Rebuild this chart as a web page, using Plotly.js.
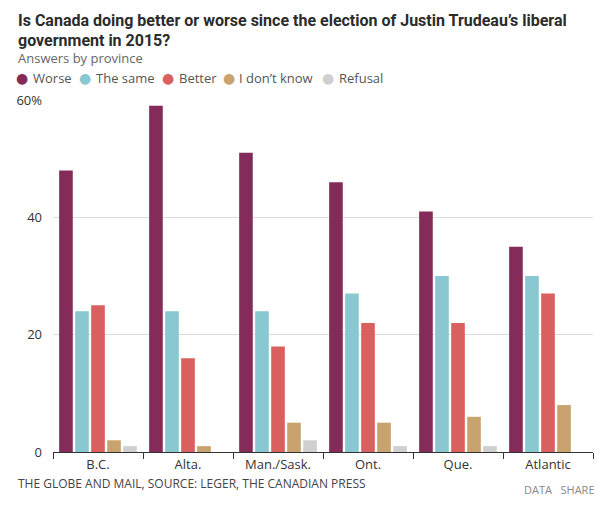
<!DOCTYPE html>
<html><head><meta charset="utf-8">
<script src="https://cdn.plot.ly/plotly-3.0.1.min.js"></script>
<style>html,body{margin:0;padding:0;background:#fff}#chart{width:615px;height:509px}</style>
</head><body><div id="chart"></div>
<script>
const provinces = ["B.C.", "Alta.", "Man./Sask.", "Ont.", "Que.", "Atlantic"];
const seriesNames = ["Worse", "The same", "Better", "I don\u2019t know", "Refusal"];
const worse   = [48, 59, 51, 46, 41, 35];
const same    = [24, 24, 24, 27, 30, 30];
const better  = [25, 16, 18, 22, 22, 27];
const dontKnow= [2, 1, 5, 5, 6, 8];
const refusal = [1, 0, 2, 1, 1, 0];
const yTickVals = [0, 20, 40, 60];
const yTickText = ["0", "20", "40", "60%"];
const colors = ["#842b59", "#89c7d1", "#d9605f", "#c9a36f", "#cfcfcf"];

const values = [worse, same, better, dontKnow, refusal];
const traces = values.map((v, i) => ({
  type: "bar", x: provinces, y: v, name: seriesNames[i],
  marker: {color: colors[i]}, showlegend: false, hoverinfo: "x+y+name"
}));

const L = 53, R = 593, T = 100, B = 452;
const W = R - L, H = B - T;
const px = x => (x - L) / W;
const py = y => (B - y) / H;

const font = "Segoe UI, 'Open Sans', 'Noto Sans', sans-serif";
const annotations = [];
const titleLines = ["Is Canada doing better or worse since the election of Justin Trudeau\u2019s liberal", "government in 2015?"];
titleLines.forEach((t, i) => {
  annotations.push({xref: "paper", yref: "paper", x: px(16), y: py(20 + 20 * i), xanchor: "left", yanchor: "middle",
    text: "<b>" + t + "</b>", showarrow: false,
    font: {family: "Roboto, 'Open Sans', sans-serif", size: 16, color: "#2b2b2b"}});
});
annotations.push({xref: "paper", yref: "paper", x: px(16), y: py(58), xanchor: "left", yanchor: "middle",
  text: "Answers by province", showarrow: false, font: {family: font, size: 13, color: "#666"}});
const legendDot = [22, 85, 168, 229, 328];
const legendText = [31, 94, 177, 237, 337];
seriesNames.forEach((n, i) => {
  annotations.push({xref: "paper", yref: "paper", x: px(legendDot[i]), y: py(78), xanchor: "center", yanchor: "middle",
    text: "\u25CF", showarrow: false, font: {family: "DejaVu Sans, sans-serif", size: 14, color: colors[i]}});
  annotations.push({xref: "paper", yref: "paper", x: px(legendText[i]), y: py(78), xanchor: "left", yanchor: "middle",
    text: n, showarrow: false, font: {family: font, size: 13, color: "#555"}});
});
annotations.push({xref: "paper", yref: "paper", x: px(16), y: py(483), xanchor: "left", yanchor: "middle",
  text: "THE GLOBE AND MAIL, SOURCE: LEGER, THE CANADIAN PRESS", showarrow: false,
  font: {family: font, size: 12, color: "#444"}});
annotations.push({xref: "paper", yref: "paper", x: px(597), y: py(489), xanchor: "right", yanchor: "middle",
  text: "DATA\u00A0\u00A0\u00A0SHARE", showarrow: false, font: {family: font, size: 11, color: "#888"}});

const layout = {
  width: 615, height: 509,
  margin: {l: L, r: 615 - R, t: T, b: 509 - B, pad: 0},
  paper_bgcolor: "#fff", plot_bgcolor: "#fff",
  barmode: "group", bargap: 0.11, bargroupgap: 0.15,
  font: {family: font, size: 13, color: "#333"},
  xaxis: {type: "category", tickson: "boundaries", ticks: "outside", ticklen: 6, tickcolor: "#333",
    showline: true, linecolor: "#333", linewidth: 1, showgrid: false, tickfont: {size: 13, color: "#333"}, fixedrange: true},
  yaxis: {range: [0, 60], tickvals: yTickVals, ticktext: yTickText, showgrid: true, gridcolor: "#dcdcdc",
    zeroline: false, showline: false, ticks: "", ticklabelstandoff: 10, tickfont: {size: 13, color: "#333"}, fixedrange: true},
  annotations: annotations,
  showlegend: false
};
Plotly.newPlot("chart", traces, layout, {displayModeBar: false, staticPlot: true});
</script></body></html>
